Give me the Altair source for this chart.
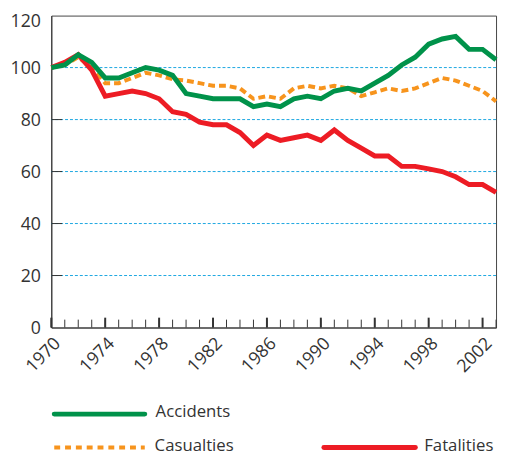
import altair as alt
import pandas as pd

years = [1970, 1971, 1972, 1973, 1974, 1975, 1976, 1977, 1978, 1979,
         1980, 1981, 1982, 1983, 1984, 1985, 1986, 1987, 1988, 1989,
         1990, 1991, 1992, 1993, 1994, 1995, 1996, 1997, 1998, 1999,
         2000, 2001, 2002, 2003]
accidents = [100, 101, 105, 102, 96, 96, 98, 100, 99, 97,
             90, 89, 88, 88, 88, 85, 86, 85, 88, 89,
             88, 91, 92, 91, 94, 97, 101, 104, 109, 111,
             112, 107, 107, 103]
casualties = [100, 101, 104, 100, 94, 94, 96, 98, 97, 95.5,
              95, 94, 93, 93, 92, 88, 89, 88, 92, 93,
              92, 93, 92, 89, 90.5, 92, 91, 92, 94, 96,
              95, 93, 91, 87]
fatalities = [100, 102, 105, 99, 89, 90, 91, 90, 88, 83,
              82, 79, 78, 78, 75, 70, 74, 72, 73, 74,
              72, 76, 72, 69, 66, 66, 62, 62, 61, 60,
              58, 55, 55, 52]
y_labels = [0, 20, 40, 60, 80, 100, 120]
grid_values = [20, 40, 60, 80, 100]
x_labels = [1970, 1974, 1978, 1982, 1986, 1990, 1994, 1998, 2002]
legend_names = ["Accidents", "Casualties", "Fatalities"]

GREEN = "#00924a"
ORANGE = "#f7941d"
RED = "#ed1c24"
TEXT = "#333333"
FONT = "Open Sans"
FS = 18
LFS = 17

xs = alt.Scale(domain=[1970, 2003], nice=False)
ys = alt.Scale(domain=[0, 120], nice=False)

W, H = 452, 317

x_axis = alt.Axis(
    values=x_labels, format="d", labelAngle=-45, labelAlign="right",
    labelBaseline="top", tickSize=0, labelPadding=7, labelFontSize=FS,
    labelColor=TEXT, labelFont=FONT, domainColor="#333333", grid=False,
    title=None, labelFlush=False, labelOverlap=False)
y_axis = alt.Axis(
    values=y_labels, tickSize=0, labelPadding=11, labelFontSize=FS,
    labelColor=TEXT, labelFont=FONT, domainColor="#333333", grid=False,
    title=None, labelFlush=False,
    labelOffset={"condition": {"test": "datum.value == 120", "value": 6}, "value": 1})

def X(field):
    return alt.X(field, scale=xs, axis=x_axis, title=None)

def Y(field):
    return alt.Y(field, scale=ys, axis=y_axis, title=None)

def series_df(vals):
    return pd.DataFrame({"year": years, "value": vals})

grid = alt.Chart(pd.DataFrame({"value": grid_values})).mark_rule(
    color="#1ba6e0", strokeWidth=1, strokeDash=[3, 2]
).encode(y=Y("value:Q"))

minor_ticks = alt.Chart(pd.DataFrame({"year": years})).mark_rule(
    color="#333333", strokeWidth=1
).encode(x=X("year:Q"), y=alt.value(H), y2=alt.value(H - 8))

major_ticks = alt.Chart(pd.DataFrame({"year": x_labels})).mark_rule(
    color="#333333", strokeWidth=2
).encode(x=X("year:Q"), y=alt.value(H), y2=alt.value(H - 10))

y_ticks = alt.Chart(pd.DataFrame({"value": grid_values})).mark_rule(
    color="#333333", strokeWidth=1
).encode(y=Y("value:Q"), x=alt.value(0), x2=alt.value(11))

def line(vals, color, width, dash=None):
    kw = dict(color=color, strokeWidth=width, strokeJoin="miter", strokeCap="butt")
    if dash:
        kw["strokeDash"] = dash
    return alt.Chart(series_df(vals)).mark_line(**kw).encode(
        x=X("year:Q"), y=Y("value:Q"))

l_cas = line(casualties, ORANGE, 4, [7, 4])
l_fat = line(fatalities, RED, 5)
l_acc = line(accidents, GREEN, 5)

def leg_line(x1, x2, y, color, dash=None):
    kw = dict(color=color, strokeWidth=5, strokeCap="round")
    if dash:
        kw = dict(color=color, strokeWidth=4, strokeDash=dash, strokeCap="butt")
    return alt.Chart(pd.DataFrame({"a": [0]})).mark_rule(**kw).encode(
        x=alt.value(x1), x2=alt.value(x2), y=alt.value(y))

def leg_text(x, y, label):
    return alt.Chart(pd.DataFrame({"t": [label]})).mark_text(
        align="left", baseline="alphabetic", fontSize=LFS, font=FONT, color=TEXT
    ).encode(x=alt.value(x), y=alt.value(y), text="t:N")

legend = [
    leg_line(3, 95, 405, GREEN), leg_text(106, 408, legend_names[0]),
    leg_line(3, 95, 439, ORANGE, [6, 5]), leg_text(105, 442, legend_names[1]),
    leg_line(277, 370, 439, RED), leg_text(379, 442, legend_names[2]),
]

chart = alt.layer(
    grid, minor_ticks, major_ticks, y_ticks, l_cas, l_fat, l_acc, *legend
).properties(
    width=W, height=H,
    autosize=alt.AutoSizeParams(type="none"),
    padding={"left": 44, "top": 4, "right": 3, "bottom": 135},
    background="white",
).configure_view(stroke="#444444", strokeWidth=1)

chart.save("out.html", embed_options={"renderer": "svg", "actions": False})
